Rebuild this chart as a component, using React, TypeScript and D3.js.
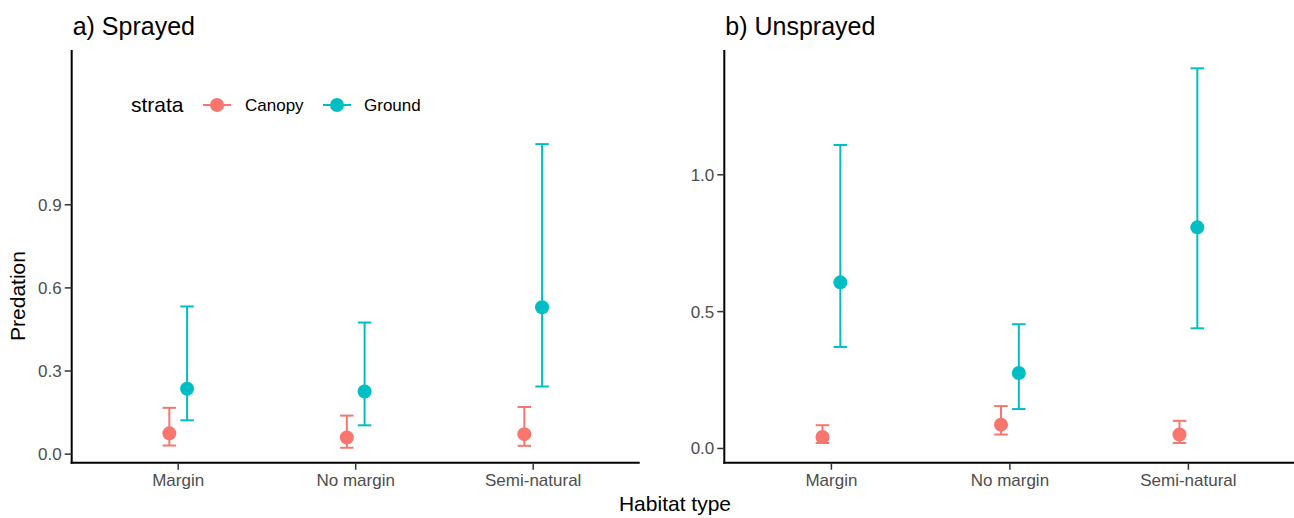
import React from "react";
import * as d3 from "d3";

const categories = ["Margin", "No margin", "Semi-natural"];
const strata = ["Canopy", "Ground"];
const strataColors = ["#F8766D", "#00BFC4"];

const sprayedCanopyMean = [0.075, 0.06, 0.072];
const sprayedCanopyLow = [0.031, 0.023, 0.03];
const sprayedCanopyHigh = [0.167, 0.139, 0.17];
const sprayedGroundMean = [0.236, 0.226, 0.53];
const sprayedGroundLow = [0.122, 0.104, 0.244];
const sprayedGroundHigh = [0.533, 0.475, 1.119];

const unsprayedCanopyMean = [0.042, 0.087, 0.051];
const unsprayedCanopyLow = [0.02, 0.051, 0.02];
const unsprayedCanopyHigh = [0.085, 0.155, 0.101];
const unsprayedGroundMean = [0.607, 0.276, 0.808];
const unsprayedGroundLow = [0.371, 0.144, 0.439];
const unsprayedGroundHigh = [1.109, 0.454, 1.389];

const sprayedTicks = [0, 0.3, 0.6, 0.9];
const unsprayedTicks = [0, 0.5, 1.0];

const FONT = "'Liberation Sans', Arial, sans-serif";

type Series = { mean: number[]; low: number[]; high: number[] };

function Panel(props: {
  title: string;
  xRange: [number, number];
  yDomain: [number, number];
  yRange: [number, number];
  axisTop: number;
  ticks: number[];
  series: Series[];
}) {
  const { title, xRange, yDomain, yRange, axisTop, ticks, series } = props;
  const x = d3.scalePoint<string>().domain(categories).range(xRange).padding(0.6);
  const y = d3.scaleLinear().domain(yDomain).range(yRange);
  const step = x.step();
  const dodge = step * 0.05;
  const capHalf = step * 0.038;
  const axisY = yRange[0];
  const left = xRange[0];
  const fmt = d3.format(".1f");
  return (
    <g>
      <text x={left + 1} y={35} fontSize={25} fontFamily={FONT} fill="#000">
        {title}
      </text>
      {series.map((s, si) =>
        categories.map((c, i) => {
          const cx = (x(c) as number) + (si === 0 ? -dodge : dodge);
          return (
            <g key={`${si}-${i}`} stroke={strataColors[si]} strokeWidth={2}>
              <line x1={cx} x2={cx} y1={y(s.low[i])} y2={y(s.high[i])} />
              <line x1={cx - capHalf} x2={cx + capHalf} y1={y(s.low[i])} y2={y(s.low[i])} />
              <line x1={cx - capHalf} x2={cx + capHalf} y1={y(s.high[i])} y2={y(s.high[i])} />
              <circle cx={cx} cy={y(s.mean[i])} r={7} fill={strataColors[si]} stroke="none" />
            </g>
          );
        })
      )}
      <line x1={left} x2={left} y1={axisTop} y2={axisY + 1} stroke="#000" strokeWidth={2} />
      <line x1={left - 1} x2={xRange[1]} y1={axisY} y2={axisY} stroke="#000" strokeWidth={2} />
      {ticks.map((t) => (
        <g key={t}>
          <line x1={left - 7} x2={left} y1={y(t)} y2={y(t)} stroke="#333" strokeWidth={1.5} />
          <text
            x={left - 10}
            y={y(t)}
            dy="0.35em"
            textAnchor="end"
            fontSize={17}
            fontFamily={FONT}
            fill="#4D4D4D"
          >
            {fmt(t)}
          </text>
        </g>
      ))}
      {categories.map((c) => (
        <g key={c}>
          <line x1={x(c)} x2={x(c)} y1={axisY} y2={axisY + 7} stroke="#333" strokeWidth={1.5} />
          <text
            x={x(c)}
            y={486}
            textAnchor="middle"
            fontSize={17}
            fontFamily={FONT}
            fill="#4D4D4D"
          >
            {c}
          </text>
        </g>
      ))}
    </g>
  );
}

export default function App() {
  const sprayed: Series[] = [
    { mean: sprayedCanopyMean, low: sprayedCanopyLow, high: sprayedCanopyHigh },
    { mean: sprayedGroundMean, low: sprayedGroundLow, high: sprayedGroundHigh },
  ];
  const unsprayed: Series[] = [
    { mean: unsprayedCanopyMean, low: unsprayedCanopyLow, high: unsprayedCanopyHigh },
    { mean: unsprayedGroundMean, low: unsprayedGroundLow, high: unsprayedGroundHigh },
  ];
  const legendKeys = [217, 337];
  const legendLabels = [245, 364];
  return (
    <svg
      width={1294}
      height={518}
      style={{ position: "absolute", left: 0, top: 0, background: "#fff" }}
    >
      <rect x={0} y={0} width={1294} height={518} fill="#fff" />
      <Panel
        title="a) Sprayed"
        xRange={[71.7, 639.7]}
        yDomain={[-0.031, 1.17]}
        yRange={[462.7, 130]}
        axisTop={50}
        ticks={sprayedTicks}
        series={sprayed}
      />
      <Panel
        title="b) Unsprayed"
        xRange={[724.3, 1295.5]}
        yDomain={[-0.052, 1.456]}
        yRange={[462.7, 50]}
        axisTop={50}
        ticks={unsprayedTicks}
        series={unsprayed}
      />
      <text
        transform="translate(25,296) rotate(-90)"
        textAnchor="middle"
        fontSize={21}
        fontFamily={FONT}
        fill="#000"
      >
        Predation
      </text>
      <text x={675} y={511} textAnchor="middle" fontSize={21} fontFamily={FONT} fill="#000">
        Habitat type
      </text>
      <g>
        <text x={131} y={112} fontSize={21} fontFamily={FONT} fill="#000">
          strata
        </text>
        {strata.map((s, i) => (
          <g key={s}>
            <line
              x1={legendKeys[i] - 14}
              x2={legendKeys[i] + 14}
              y1={105}
              y2={105}
              stroke={strataColors[i]}
              strokeWidth={2}
            />
            <circle cx={legendKeys[i]} cy={105} r={7} fill={strataColors[i]} />
            <text x={legendLabels[i]} y={111} fontSize={17} fontFamily={FONT} fill="#000">
              {s}
            </text>
          </g>
        ))}
      </g>
    </svg>
  );
}
